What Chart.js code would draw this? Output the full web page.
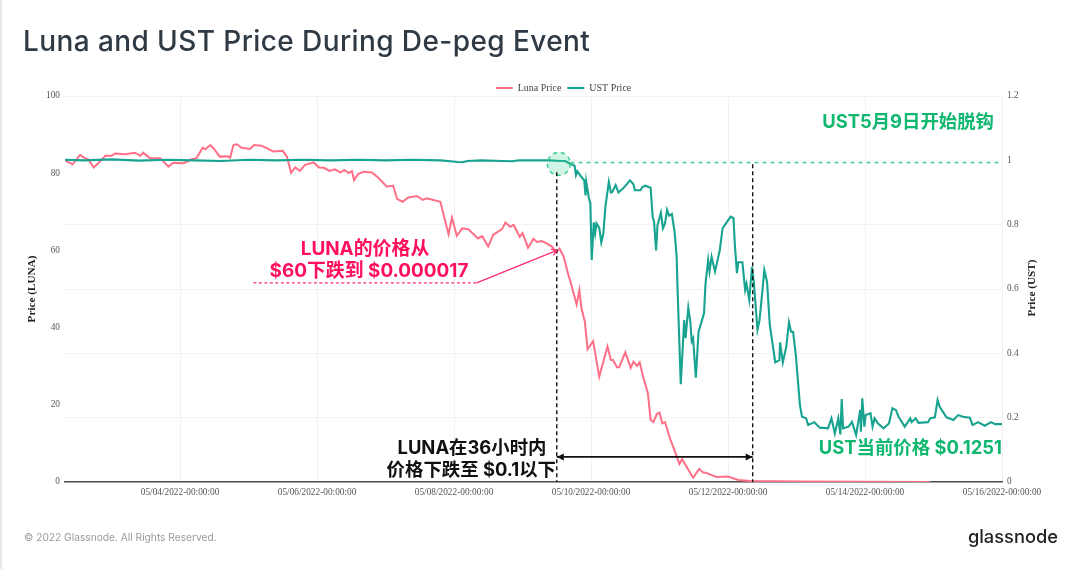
<!DOCTYPE html>
<html>
<head>
<meta charset="utf-8">
<title>Luna and UST Price During De-peg Event</title>
<script src="https://cdn.jsdelivr.net/npm/chart.js@4/dist/chart.umd.min.js"></script>
<style>
    html, body { margin: 0; padding: 0; background: #fff; }
    #wrap { position: relative; width: 1080px; height: 569px; overflow: hidden; border-left: 2px solid #e8e8e8; box-sizing: border-box; }
    #chart { position: absolute; left: -2px; top: 0; }
    .txt { position: absolute; white-space: nowrap; font-family: Inter, "Noto Sans CJK SC", sans-serif; line-height: 22px; }
    .note { font-size: 18.4px; font-weight: 700; }
    .pink { color: #ff0f5c; font-size: 18.9px; }
    .green { color: #10b76f; }
    .black { color: #111; }
</style>
</head>
<body>
<div id="wrap">
    <canvas id="chart" width="1080" height="569"></canvas>
    <div class="txt" style="left:21px;top:24px;font-size:28px;font-weight:500;line-height:34px;color:#2f3a45;letter-spacing:.41px">Luna and UST Price During De-peg Event</div>
    <div class="txt note pink" style="left:188px;width:350px;top:238px;text-align:center">LUNA的价格从</div>
    <div class="txt note pink" style="left:192px;width:350px;top:260px;text-align:center">$60下跌到 $0.000017</div>
    <div class="txt note green" style="right:86px;top:110px">UST5月9日开始脱钩</div>
    <div class="txt note green" style="right:78px;top:436px">UST当前价格 $0.1251</div>
    <div class="txt note black" style="left:295px;width:350px;top:436px;text-align:center">LUNA在36小时内</div>
    <div class="txt note black" style="right:524px;top:458px">价格下跌至 $0.1以下</div>
    <div class="txt" style="left:22px;top:526px;font-size:10.2px;color:#9a9a9a">© 2022 Glassnode. All Rights Reserved.</div>
    <div class="txt" style="right:22px;top:525px;font-size:18.3px;font-weight:500;color:#222">glassnode</div>
    <div class="txt" style="left:999px;width:60px;top:277px;text-align:center;transform:rotate(-90deg);font-family:'Liberation Serif',serif;font-size:11.2px;font-weight:700;color:#222">Price (UST)</div>
</div>
<script>
/* global Chart */

// x values are days of May 2022
const lunaDays = [
    2.32, 2.43, 2.54, 2.61, 2.66, 2.74, 2.84, 2.91, 3.00, 3.05,
    3.20, 3.34, 3.42, 3.46, 3.56, 3.71, 3.83, 3.90, 4.05, 4.17,
    4.24, 4.33, 4.37, 4.44, 4.49, 4.58, 4.70, 4.73, 4.78, 4.83,
    4.90, 5.02, 5.08, 5.19, 5.29, 5.36, 5.50, 5.56, 5.62, 5.68,
    5.75, 5.82, 5.95, 6.03, 6.10, 6.18, 6.26, 6.34, 6.40, 6.46,
    6.51, 6.54, 6.60, 6.68, 6.80, 6.89, 7.02, 7.11, 7.17, 7.25,
    7.33, 7.46, 7.54, 7.60, 7.80, 7.92, 7.97, 8.04, 8.12, 8.21,
    8.35, 8.41, 8.50, 8.57, 8.70, 8.75, 8.82, 8.87, 8.96, 9.00,
    9.08, 9.16, 9.21, 9.28, 9.35, 9.43, 9.49, 9.54, 9.60, 9.67,
    9.70, 9.79, 9.83, 9.86, 9.91, 9.95, 10.03, 10.12, 10.24, 10.29,
    10.32, 10.38, 10.41, 10.50, 10.58, 10.62, 10.67, 10.71, 10.76, 10.83,
    10.87, 10.91, 10.96, 11.00, 11.04, 11.08, 11.16, 11.20, 11.29, 11.33,
    11.49, 11.58, 11.63, 11.69, 11.83, 12.00, 12.15, 12.32, 13.05, 14.95
];
const lunaPrices = [
    83.3, 82.3, 84.7, 83.9, 83.6, 81.5, 83.2, 84.5, 84.5, 85.1,
    84.9, 85.3, 84.5, 85.3, 83.9, 83.9, 81.7, 82.7, 82.6, 83.6,
    83.9, 86.6, 86.2, 87.3, 86.4, 84.3, 84.4, 84.0, 87.3, 87.5,
    86.6, 86.3, 87.3, 87.1, 86.3, 85.6, 85.8, 84.3, 80.1, 81.5,
    80.6, 82.1, 82.8, 81.5, 81.4, 80.6, 81.0, 80.2, 80.8, 80.1,
    80.5, 78.2, 79.8, 80.4, 80.2, 78.9, 76.5, 76.8, 73.3, 72.6,
    73.7, 74.1, 73.1, 73.5, 72.6, 64.2, 68.5, 63.8, 65.7, 65.5,
    63.1, 63.7, 61.0, 64.0, 65.5, 67.2, 66.1, 66.6, 63.5, 64.5,
    60.7, 63.0, 62.2, 62.4, 61.8, 61.0, 59.5, 60.5, 58.4, 53.6,
    51.9, 46.0, 49.7, 45.0, 41.5, 34.4, 36.5, 27.3, 35.1, 31.6,
    31.6, 29.7, 29.7, 33.6, 29.6, 31.2, 30.1, 31.0, 27.3, 23.0,
    16.1, 15.5, 17.6, 18.0, 15.2, 15.5, 10.9, 9.1, 4.7, 5.9,
    1.1, 3.4, 2.5, 2.3, 1.3, 1.4, 0.5, 0.25, 0.1, 0.02
];
const ustDays = [
    2.32, 2.60, 3.00, 3.40, 3.80, 4.20, 4.60, 5.00, 5.40, 5.80,
    6.20, 6.60, 7.00, 7.40, 7.80, 7.95, 8.05, 8.12, 8.20, 8.40,
    8.70, 8.85, 8.95, 9.20, 9.40, 9.55, 9.62, 9.69, 9.76, 9.78,
    9.80, 9.85, 9.90, 9.92, 9.93, 9.97, 9.99, 10.01, 10.04, 10.06,
    10.08, 10.12, 10.15, 10.18, 10.21, 10.26, 10.29, 10.31, 10.36, 10.40,
    10.47, 10.57, 10.62, 10.64, 10.72, 10.75, 10.79, 10.87, 10.90, 10.92,
    10.95, 10.97, 11.02, 11.05, 11.08, 11.11, 11.14, 11.18, 11.22, 11.25,
    11.26, 11.31, 11.36, 11.38, 11.42, 11.45, 11.47, 11.49, 11.53, 11.57,
    11.62, 11.65, 11.67, 11.71, 11.73, 11.76, 11.81, 11.88, 11.92, 11.97,
    12.04, 12.08, 12.10, 12.13, 12.15, 12.21, 12.25, 12.27, 12.31, 12.35,
    12.38, 12.43, 12.46, 12.51, 12.53, 12.57, 12.61, 12.69, 12.75, 12.76,
    12.80, 12.85, 12.89, 12.92, 12.95, 12.99, 13.05, 13.08, 13.14, 13.17,
    13.26, 13.34, 13.46, 13.51, 13.56, 13.61, 13.64, 13.66, 13.68, 13.76,
    13.81, 13.87, 13.93, 13.94, 13.96, 13.99, 14.01, 14.08, 14.11, 14.14,
    14.19, 14.27, 14.35, 14.40, 14.45, 14.49, 14.58, 14.66, 14.68, 14.74,
    14.78, 14.92, 14.95, 15.02, 15.06, 15.09, 15.19, 15.29, 15.36, 15.43,
    15.53, 15.57, 15.65, 15.75, 15.84, 15.90, 16.00
];
const ustPrices = [
    1.002, 1.000, 1.003, 0.999, 1.002, 1.000, 0.998, 1.002, 1.000, 1.002,
    1.000, 1.002, 1.000, 1.002, 1.000, 0.997, 0.995, 0.994, 0.998, 1.000,
    0.998, 0.997, 1.000, 1.000, 1.000, 0.998, 0.998, 0.990, 0.983, 0.954,
    0.966, 0.951, 0.938, 0.891, 0.933, 0.881, 0.866, 0.690, 0.807, 0.773,
    0.804, 0.790, 0.745, 0.773, 0.856, 0.933, 0.900, 0.902, 0.923, 0.900,
    0.913, 0.938, 0.925, 0.907, 0.907, 0.917, 0.921, 0.915, 0.824, 0.809,
    0.720, 0.798, 0.837, 0.789, 0.804, 0.846, 0.828, 0.833, 0.778, 0.700,
    0.620, 0.304, 0.503, 0.447, 0.542, 0.498, 0.438, 0.447, 0.324, 0.467,
    0.503, 0.525, 0.613, 0.690, 0.654, 0.700, 0.654, 0.721, 0.788, 0.804,
    0.825, 0.820, 0.737, 0.649, 0.683, 0.683, 0.597, 0.616, 0.566, 0.669,
    0.613, 0.473, 0.503, 0.613, 0.659, 0.622, 0.488, 0.372, 0.379, 0.434,
    0.372, 0.420, 0.496, 0.467, 0.467, 0.394, 0.239, 0.203, 0.198, 0.177,
    0.186, 0.169, 0.167, 0.198, 0.151, 0.198, 0.148, 0.258, 0.167, 0.172,
    0.187, 0.146, 0.224, 0.156, 0.260, 0.172, 0.208, 0.214, 0.172, 0.198,
    0.182, 0.167, 0.182, 0.229, 0.224, 0.203, 0.172, 0.198, 0.186, 0.198,
    0.184, 0.186, 0.198, 0.201, 0.255, 0.234, 0.201, 0.193, 0.208, 0.203,
    0.200, 0.177, 0.186, 0.175, 0.186, 0.180, 0.180
];

const xTickDays = [4, 6, 8, 10, 12, 14, 16];
const xTickLabels = [
    '05/04/2022-00:00:00', '05/06/2022-00:00:00', '05/08/2022-00:00:00', '05/10/2022-00:00:00',
    '05/12/2022-00:00:00', '05/14/2022-00:00:00', '05/16/2022-00:00:00'
];

// annotation marks, in chart units
const pegLine = { from: 9.7, to: 15.97, ust: 0.993 };
const depegMarker = { day: 9.53, ust: 0.989 };
const startLine = { day: 9.50, ust: 0.963 };
const endLine = { day: 12.36, ust: 0.988 };
const spanArrow = { from: 9.50, to: 12.36, luna: 6.5 };
const lunaCallout = { from: 5.07, elbow: 8.33, luna: 51.6, toDay: 9.50, toLuna: 60 };

const SERIF = '"Liberation Serif", serif';
const LUNA_COLOR = '#ff6f87';
const UST_COLOR = '#17a38f';
const PEG_COLOR = '#3ccf91';
const CALLOUT_COLOR = '#ff2f6e';

function segment(ctx, x1, y1, x2, y2) {
    ctx.beginPath();
    ctx.moveTo(x1, y1);
    ctx.lineTo(x2, y2);
    ctx.stroke();
}

const annotations = {
    id: 'annotations',
    afterLayout(chart) {
        // the legend sits right of the canvas centre and close to the plot in the original
        chart.legend.left += 30;
        chart.legend.right += 30;
        chart.legend.top += 7;
        chart.legend.bottom += 7;
    },
    afterDatasetsDraw(chart) {
        const { ctx, scales } = chart;
        const x = scales.x;
        const yL = scales.y;
        const yU = scales.y1;
        ctx.save();

        // dashed $1 peg line
        ctx.strokeStyle = PEG_COLOR;
        ctx.lineWidth = 1.5;
        ctx.setLineDash([4, 4]);
        segment(ctx, x.getPixelForValue(pegLine.from), yU.getPixelForValue(pegLine.ust), x.getPixelForValue(pegLine.to), yU.getPixelForValue(pegLine.ust));

        // circle where the de-peg starts
        ctx.beginPath();
        ctx.arc(x.getPixelForValue(depegMarker.day), yU.getPixelForValue(depegMarker.ust), 11.5, 0, Math.PI * 2);
        ctx.fillStyle = 'rgba(60, 207, 145, 0.24)';
        ctx.fill();
        ctx.stroke();

        // vertical markers
        ctx.strokeStyle = '#111';
        ctx.lineWidth = 1.4;
        ctx.setLineDash([4, 3]);
        [startLine, endLine].forEach((line) => {
            const px = x.getPixelForValue(line.day);
            segment(ctx, px, yU.getPixelForValue(line.ust), px, yU.getPixelForValue(0));
        });

        // 36 hour span arrow
        const ax1 = x.getPixelForValue(spanArrow.from);
        const ax2 = x.getPixelForValue(spanArrow.to);
        const ay = yL.getPixelForValue(spanArrow.luna);
        ctx.setLineDash([]);
        ctx.lineWidth = 1.6;
        segment(ctx, ax1, ay, ax2, ay);
        ctx.fillStyle = '#111';
        [[ax1, 7], [ax2, -7]].forEach(([px, len]) => {
            ctx.beginPath();
            ctx.moveTo(px, ay);
            ctx.lineTo(px + len, ay - 3.5);
            ctx.lineTo(px + len, ay + 3.5);
            ctx.closePath();
            ctx.fill();
        });

        // callout for the Luna price
        const cy = yL.getPixelForValue(lunaCallout.luna);
        const ex = x.getPixelForValue(lunaCallout.elbow);
        const tx = x.getPixelForValue(lunaCallout.toDay);
        const ty = yL.getPixelForValue(lunaCallout.toLuna);
        ctx.strokeStyle = CALLOUT_COLOR;
        ctx.lineWidth = 1.3;
        ctx.setLineDash([3, 2.5]);
        segment(ctx, x.getPixelForValue(lunaCallout.from), cy, ex, cy);
        ctx.setLineDash([]);
        segment(ctx, ex, cy, tx, ty);
        const angle = Math.atan2(ty - cy, tx - ex);
        [0.6, -0.6].forEach((da) => {
            segment(ctx, tx, ty, tx - 6 * Math.cos(angle + da), ty - 6 * Math.sin(angle + da));
        });

        ctx.restore();
    }
};

const fixedWidth = (scale) => { scale.width = 40; };
const tickFont = { family: SERIF, size: 9.3 };

new Chart(document.getElementById('chart').getContext('2d'), {
    type: 'line',
    plugins: [annotations],
    data: {
        datasets: [
            {
                label: 'UST Price',
                yAxisID: 'y1',
                data: ustDays.map((day, i) => ({ x: day, y: ustPrices[i] })),
                borderColor: UST_COLOR,
                backgroundColor: UST_COLOR,
                borderWidth: 2.1,
                pointRadius: 0,
                tension: 0
            },
            {
                label: 'Luna Price',
                yAxisID: 'y',
                data: lunaDays.map((day, i) => ({ x: day, y: lunaPrices[i] })),
                borderColor: LUNA_COLOR,
                backgroundColor: LUNA_COLOR,
                borderWidth: 2,
                pointRadius: 0,
                tension: 0
            }
        ]
    },
    options: {
        responsive: false,
        animation: false,
        devicePixelRatio: 1,
        layout: {
            padding: { left: 25, right: 38, top: 70, bottom: 47 }
        },
        scales: {
            x: {
                type: 'linear',
                min: 2.32,
                max: 16,
                afterBuildTicks: (scale) => {
                    scale.ticks = xTickDays.map((value) => ({ value }));
                },
                afterFit: (scale) => { scale.height = 40; },
                grid: { color: '#f1f1f1', drawTicks: false },
                border: { color: '#4d4d4d', width: 1.4 },
                ticks: {
                    autoSkip: false,
                    maxRotation: 0,
                    padding: 5,
                    color: '#555',
                    font: tickFont,
                    callback: (value) => xTickLabels[xTickDays.indexOf(value)]
                }
            },
            y: {
                position: 'left',
                min: 0,
                max: 100,
                afterFit: fixedWidth,
                grid: { display: false, drawTicks: false },
                border: { display: false },
                title: {
                    display: true,
                    text: 'Price (LUNA)',
                    color: '#222',
                    padding: { top: 0, bottom: 0 },
                    font: { family: SERIF, size: 11.2, weight: 'bold' }
                },
                ticks: { stepSize: 20, padding: 5, color: '#555', font: tickFont }
            },
            y1: {
                position: 'right',
                min: 0,
                max: 1.2,
                afterFit: fixedWidth,
                grid: { color: '#f3f3f3', drawTicks: false },
                border: { display: false },
                ticks: {
                    stepSize: 0.2,
                    padding: 5,
                    color: '#555',
                    font: tickFont,
                    callback: (value) => String(+value.toFixed(1))
                }
            }
        },
        plugins: {
            tooltip: { enabled: false },
            legend: {
                position: 'top',
                labels: {
                    usePointStyle: true,
                    pointStyle: 'line',
                    pointStyleWidth: 17,
                    padding: 6,
                    color: '#444',
                    font: { family: SERIF, size: 10 },
                    sort: (a, b) => b.datasetIndex - a.datasetIndex
                }
            }
        }
    }
});
</script>
</body>
</html>
